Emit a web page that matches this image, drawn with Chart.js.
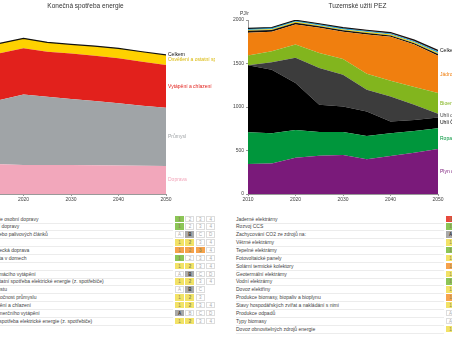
<!DOCTYPE html>
<html lang="cs">
<head>
<meta charset="utf-8">
<script src="https://cdn.jsdelivr.net/npm/chart.js@4.4.1/dist/chart.umd.min.js"></script>
<style>
  html, body { margin: 0; padding: 0; background: #fff; }
  body { width: 452px; height: 340px; overflow: hidden; position: relative; font-family: Arial, "Liberation Sans", sans-serif; }
  .panel { position: absolute; top: 0; width: 259px; height: 206px; }
  .panel h3 { position: absolute; top: 0; left: 0; width: 100%; margin: 0; text-align: center; font-weight: normal; font-size: 6.5px; line-height: 11px; color: #333; }
  .levers { position: absolute; top: 215.5px; width: 224px; font-size: 5px; color: #444; }
  .row { position: relative; height: 7.87px; line-height: 7.5px; white-space: nowrap; }
  .row .name { position: absolute; left: 0; top: 0; width: 208px; height: 7px; border-bottom: 1px solid #ececec; overflow: visible; }
  .row .btns { position: absolute; left: 210px; top: 0; }
  .btn { position: absolute; top: 0; width: 9px; height: 6.5px; line-height: 6.5px; box-sizing: border-box; border: 1px solid #ddd; background: #fff; color: #aaa; text-align: center; font-size: 4.5px; }
  .btn.sel { font-weight: bold; color: #333; }
</style>
</head>
<body>

<div class="panel" id="leftPanel" style="left:-44px"><h3>Konečná spotřeba energie</h3><canvas id="finalChart"></canvas></div>
<div class="panel" id="rightPanel" style="left:228px"><h3>Tuzemské užití PEZ</h3><canvas id="primaryChart"></canvas></div>

<div class="levers" id="demandLevers" style="left:-35px"></div>
<div class="levers" id="supplyLevers" style="left:236px"></div>

<script>
const years = [2010, 2015, 2020, 2025, 2030, 2035, 2040, 2045, 2050];

// Konečná spotřeba energie, PJ/r
const doprava = [345, 341, 333, 333, 333, 330, 327, 325, 322];
const prumysl = [747, 739, 812, 785, 758, 739, 715, 689, 670];
const vytapeni = [517, 537, 529, 517, 525, 520, 517, 506, 491];
const osvetleni = [115, 115, 115, 108, 103, 111, 115, 115, 115];

// Tuzemské užití PEZ, PJ/r
const plynDovoz = [345, 352, 417, 440, 448, 398, 437, 475, 517];
const ropa = [366, 346, 320, 273, 265, 269, 262, 250, 239];
const uhliCR = [769, 731, 539, 312, 292, 281, 134, 127, 122];
const uhliDovoz = [0, 84, 289, 423, 366, 250, 289, 173, 43];
const bioenergie = [112, 127, 153, 173, 181, 185, 181, 204, 239];
const jadro = [262, 224, 231, 289, 312, 450, 504, 488, 430];
const odpady = [22, 22, 20, 18, 18, 18, 16, 16, 18];
const slunce = [8, 8, 10, 10, 10, 10, 10, 10, 12];
const vitr = [20, 20, 18, 16, 15, 15, 15, 15, 20];
const elektrina = [0, 0, 0, 3, 5, 6, 8, 10, 10];

const yTicks = [0, 500, 1000, 1500, 2000];

// lever rows under the charts
const demandNames = [
  "Chování ve sféře osobní dopravy",
  "Objem nákladní dopravy",
  "Výběr baterie nebo palivových článků",
  "Biopaliva",
  "Mezinárodní letecká doprava",
  "Průměrná teplota v domech",
  "Zateplení",
  "Elektrifikace domácího vytápění",
  "Domácnosti: ostatní spotřeba elektrické energie (z. spotřebiče)",
  "Scénář hosp. růstu",
  "Energetická náročnost průmyslu",
  "Komerční vytápění a chlazení",
  "Elektrifikace komerčního vytápění",
  "Služby: ostatní spotřeba elektrické energie (z. spotřebiče)"
];
const demandKinds = ["1234", "1234", "ABCD", "1234", "1234", "1234", "1234", "ABCD", "1234", "ABC", "123", "1234", "ABCD", "1234"];
const demandLevels = [1, 1, 2, 2, 3, 1, 2, 2, 2, 2, 2, 2, 1, 2];

const supplyNames = [
  "Jaderné elektrárny",
  "Rozvoj CCS",
  "Zachycování CO2 ze zdrojů na:",
  "Větrné elektrárny",
  "Tepelné elektrárny",
  "Fotovoltaické panely",
  "Solární termické kolektory",
  "Geotermální elektrárny",
  "Vodní elektrárny",
  "Dovoz elektřiny",
  "Produkce biomasy, biopaliv a bioplynu",
  "Stavy hospodářských zvířat a nakládání s nimi",
  "Produkce odpadů",
  "Typy biomasy",
  "Dovoz obnovitelných zdrojů energie"
];
const supplyKinds = ["1234", "1234", "ABCD", "1234", "1234", "1234", "1234", "1234", "1234", "1234", "1234", "1234", "ABCD", "ABCD", "1234"];
const supplyLevels = [4, 1, 1, 2, 1, 2, 3, 2, 1, 2, 3, 2, 2, 2, 2];

const levelColors = { 1: "#8cc556", 2: "#f2e266", 3: "#f6a24c", 4: "#e8493c" };
const letterColor = "#a9a9a9";

function points(values) {
  return values.map((v, i) => ({ x: years[i], y: v }));
}

function sumOf(series) {
  return years.map((_, i) => series.reduce((s, arr) => s + arr[i], 0));
}

function area(label, values, color, textColor, showLabel = true) {
  return {
    label: label,
    data: points(values),
    backgroundColor: color,
    borderWidth: 0,
    pointRadius: 0,
    fill: "-1",
    stack: "layers",
    labelColor: textColor || color,
    showLabel: showLabel
  };
}

function totalLine(values) {
  return {
    label: "Celkem",
    data: points(values),
    borderColor: "#111",
    borderWidth: 1.2,
    pointRadius: 0,
    fill: false,
    stack: "total",
    order: -1,
    labelColor: "#111",
    showLabel: true
  };
}

// names at the right end of each band
const bandLabels = {
  id: "bandLabels",
  afterDatasetsDraw(chart) {
    const ctx = chart.ctx;
    const area = chart.chartArea;
    let prevY = chart.scales.y.getPixelForValue(0);
    ctx.save();
    ctx.font = "5px Arial";
    ctx.textBaseline = "middle";
    ctx.textAlign = "left";
    chart.data.datasets.forEach((ds, i) => {
      const meta = chart.getDatasetMeta(i);
      const last = meta.data[meta.data.length - 1];
      let y;
      if (ds.stack === "total") {
        y = last.y;
      } else {
        y = (last.y + prevY) / 2;
        prevY = last.y;
      }
      if (!ds.showLabel) return;
      ctx.fillStyle = ds.labelColor;
      ctx.fillText(ds.label, area.right + 2, y);
    });
    ctx.restore();
  }
};

// unit above the y axis
const unitLabel = {
  id: "unitLabel",
  afterDraw(chart) {
    const ctx = chart.ctx;
    ctx.save();
    ctx.font = "5px Arial";
    ctx.fillStyle = "#333";
    ctx.textBaseline = "middle";
    ctx.fillText("PJ/r", chart.chartArea.left - 8, chart.chartArea.top - 6);
    ctx.restore();
  }
};

function makeChart(canvasId, datasets) {
  return new Chart(document.getElementById(canvasId).getContext("2d"), {
    type: "line",
    data: { datasets: datasets },
    options: {
      responsive: true,
      maintainAspectRatio: false,
      animation: false,
      layout: { padding: { top: 20, right: 49, left: 0, bottom: 0 } },
      elements: { line: { tension: 0 } },
      plugins: {
        legend: { display: false },
        tooltip: { enabled: false },
        title: { display: false }
      },
      scales: {
        x: {
          type: "linear",
          min: years[0],
          max: years[years.length - 1],
          afterFit: (scale) => { scale.height = 12; },
          ticks: { stepSize: 10, color: "#444", font: { size: 5, family: "Arial" }, padding: 1, callback: (v) => String(v) },
          grid: { display: true, drawOnChartArea: false, drawTicks: true, tickLength: 2, color: "#999" },
          border: { color: "#999" }
        },
        y: {
          stacked: true,
          min: yTicks[0],
          max: yTicks[yTicks.length - 1],
          afterFit: (scale) => { scale.width = 20; },
          afterBuildTicks: (scale) => { scale.ticks = yTicks.map((v) => ({ value: v })); },
          ticks: { color: "#444", font: { size: 5, family: "Arial" }, padding: 2, callback: (v) => String(v) },
          grid: { display: true, drawOnChartArea: false, drawTicks: true, tickLength: 2, color: "#999" },
          border: { color: "#999" }
        }
      }
    },
    plugins: [bandLabels, unitLabel]
  });
}

const finalSets = [
  area("Doprava", doprava, "#f2a7bb"),
  area("Průmysl", prumysl, "#a0a4a7"),
  area("Vytápění a chlazení", vytapeni, "#e2211c"),
  area("Osvětlení a ostatní spotřeba", osvetleni, "#fed100", "#d8b600"),
  totalLine(sumOf([doprava, prumysl, vytapeni, osvetleni]))
];
finalSets[0].fill = "origin";
makeChart("finalChart", finalSets);

const primarySets = [
  area("Plyn dovoz", plynDovoz, "#7a1a7a"),
  area("Ropa", ropa, "#00963c"),
  area("Uhlí ČR", uhliCR, "#000000"),
  area("Uhlí dovoz", uhliDovoz, "#3c3c3c"),
  area("Bioenergie", bioenergie, "#82b51e"),
  area("Jádro", jadro, "#f07f0f"),
  area("Odpady", odpady, "#111111", null, false),
  area("Slunce", slunce, "#f3cf00", null, false),
  area("Vítr", vitr, "#35a9d9", null, false),
  area("Elektřina", elektrina, "#e2211c", null, false),
  totalLine(sumOf([plynDovoz, ropa, uhliCR, uhliDovoz, bioenergie, jadro, odpady, slunce, vitr, elektrina]))
];
primarySets[0].fill = "origin";
makeChart("primaryChart", primarySets);

// lever tables
function buildLevers(targetId, names, kinds, levels) {
  const box = document.getElementById(targetId);
  names.forEach((name, r) => {
    const row = document.createElement("div");
    row.className = "row";
    const label = document.createElement("div");
    label.className = "name";
    label.textContent = name;
    row.appendChild(label);
    const btns = document.createElement("div");
    btns.className = "btns";
    kinds[r].split("").forEach((ch, c) => {
      const b = document.createElement("div");
      b.className = "btn";
      b.style.left = (c * 10.4) + "px";
      b.textContent = ch;
      const isLetter = isNaN(Number(ch));
      const lvl = levels[r];
      if (isLetter) {
        if (c + 1 === lvl) { b.style.background = letterColor; b.style.borderColor = letterColor; b.classList.add("sel"); }
      } else if (c + 1 <= lvl) {
        const col = levelColors[lvl];
        b.style.background = col;
        b.style.borderColor = col;
        b.style.color = "#8a8a5a";
        if (c + 1 === lvl) b.classList.add("sel");
      }
      btns.appendChild(b);
    });
    row.appendChild(btns);
    box.appendChild(row);
  });
}

buildLevers("demandLevers", demandNames, demandKinds, demandLevels);
buildLevers("supplyLevers", supplyNames, supplyKinds, supplyLevels);
</script>
</body>
</html>
